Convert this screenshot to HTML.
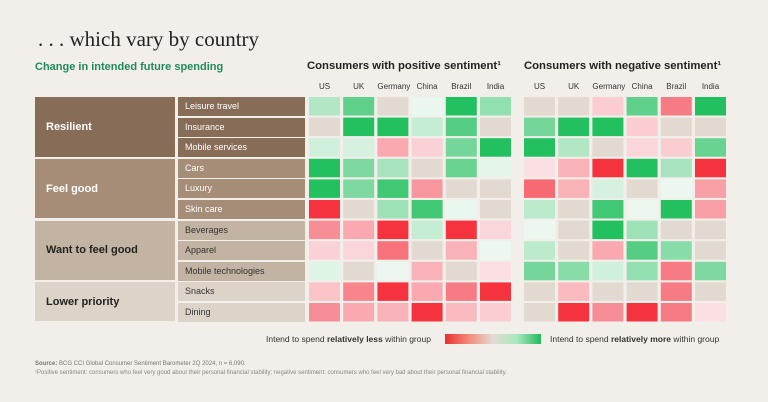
<!DOCTYPE html>
<html><head><meta charset="utf-8"><style>
body{margin:0;width:768px;height:402px;background:#f2efeb;position:relative;overflow:hidden;font-family:"Liberation Sans",sans-serif}
.a{position:absolute;white-space:nowrap}
.grp{position:absolute;left:35px;width:140px;color:#fff;font-weight:bold;font-size:11px;display:flex;align-items:center;padding-left:11px;box-sizing:border-box}
.sub{position:absolute;left:178px;width:127px;height:19px;color:#fff;font-size:9px;line-height:19px;padding-left:7px;box-sizing:border-box}
.col{position:absolute;top:82px;font-size:8px;color:#333;width:31px;text-align:center}
</style></head><body>
<div class="a" style="left:38px;top:27px;font-family:'Liberation Serif',serif;font-size:21px;color:#222">. . . which vary by country</div>
<div class="a" style="left:35px;top:61px;font-size:11px;font-weight:bold;color:#1f8a5a">Change in intended future spending</div>
<div class="a" style="left:307px;top:60px;font-size:11.3px;font-weight:bold;color:#222">Consumers with positive sentiment¹</div>
<div class="a" style="left:524px;top:60px;font-size:11.3px;font-weight:bold;color:#222">Consumers with negative sentiment¹</div>
<div id="labels"></div>
<svg id="grid" width="768" height="402" style="position:absolute;left:0;top:0"></svg>
<div class="a" style="left:266px;top:334px;font-size:8.5px;color:#333">Intend to spend <b>relatively less</b> within group</div>
<div class="a" style="left:445px;top:334px;width:96px;height:10px;background:linear-gradient(90deg,#e8302f,#f48a7a 25%,#e3dcd3 50%,#a8e8bf 75%,#22b85e)"></div>
<div class="a" style="left:550px;top:334px;font-size:8.5px;color:#333">Intend to spend <b>relatively more</b> within group</div>
<div class="a" style="left:35px;top:361px;font-size:6px;color:#777"><b>Source:</b> BCG CCI Global Consumer Sentiment Barometer 2Q 2024, n = 6,090.</div>
<div class="a" style="left:35px;top:370px;font-size:6px;color:#888">¹Positive sentiment: consumers who feel very good about their personal financial stability; negative sentiment: consumers who feel very bad about their personal financial stability.</div>
<script>
const countries=["US","UK","Germany","China","Brazil","India"];
const items=["Leisure travel","Insurance","Mobile services","Cars","Luxury","Skin care","Beverages","Apparel","Mobile technologies","Snacks","Dining"];
const groups=["Resilient","Feel good","Want to feel good","Lower priority"];
const groupSizes=[3,3,3,2];
const positive=[
[0.3,0.7,0,0.02,1,0.45],[0,1,1,0.2,0.75,0],[0.15,0.12,-0.35,-0.12,0.6,1],
[1,0.55,0.35,0,0.65,0.05],[1,0.55,0.85,-0.45,0,0],[-1,0,0.4,0.85,0.02,0],
[-0.5,-0.35,-1,0.2,-1,-0.1],[-0.12,-0.1,-0.65,0,-0.3,0.01],[0.08,0,0.01,-0.3,0,-0.05],
[-0.2,-0.55,-1,-0.35,-0.6,-1],[-0.5,-0.35,-0.3,-1,-0.25,-0.15]];
const negative=[
[0,0,-0.15,0.7,-0.6,1],[0.6,1,1,-0.15,0,0],[1,0.3,0,-0.1,-0.15,0.65],
[-0.05,-0.3,-1,1,0.35,-1],[-0.7,-0.3,0.12,0,0.01,-0.4],[0.25,0,0.85,0.01,1,-0.4],
[0.01,0,1,0.4,0,0],[0.25,0,-0.35,0.75,0.5,0],[0.6,0.5,0.15,0.45,-0.6,0.55],
[0,-0.25,0,0,-0.6,0],[0,-1,-0.5,-1,-0.6,-0.05]];
const rowY=i=>97+i*20.6;
const colX=(p,j)=>(p?524:309)+j*34.2;
function color(v){
  if(v===0) return "#e2dad0";
  const t=Math.min(1,Math.abs(v));
  const e=v>0?[34,192,94]:[245,51,63];
  const s=v>0?[238,248,241]:[251,232,235];
  return "rgb("+s.map((c,k)=>Math.round(c+(e[k]-c)*t)).join(",")+")";
}
const svg=document.getElementById("grid"),NS="http://www.w3.org/2000/svg";
[positive,negative].forEach((data,p)=>{
  data.forEach((row,i)=>row.forEach((v,j)=>{
    const r=document.createElementNS(NS,"rect");
    r.setAttribute("x",colX(p,j));r.setAttribute("y",rowY(i));
    r.setAttribute("width",31);r.setAttribute("height",18.5);
    r.setAttribute("fill",color(v));
    
    
    svg.appendChild(r);
  }));
});
const L=document.getElementById("labels");
let html="";
[0,1].forEach(p=>countries.forEach((c,j)=>{
  html+=`<div class="col" style="left:${colX(p,j)}px">${c}</div>`;
}));
const gcol=["#876c57","#a68d78","#c3b3a2","#dcd4c8"];
const gtxt=["#fff","#fff","#222","#222"];
let r0=0;
groups.forEach((g,k)=>{
  const n=groupSizes[k],top=rowY(r0),h=rowY(r0+n-1)+18.5-top;
  html+=`<div class="grp" style="top:${top}px;height:${h}px;background:${gcol[k]};color:${gtxt[k]}">${g}</div>`;
  for(let i=r0;i<r0+n;i++)
    html+=`<div class="sub" style="top:${rowY(i)}px;background:${gcol[k]};color:${k<2?'#fff':'#333'}">${items[i]}</div>`;
  r0+=n;
});
L.innerHTML=html;
</script>
</body></html>
